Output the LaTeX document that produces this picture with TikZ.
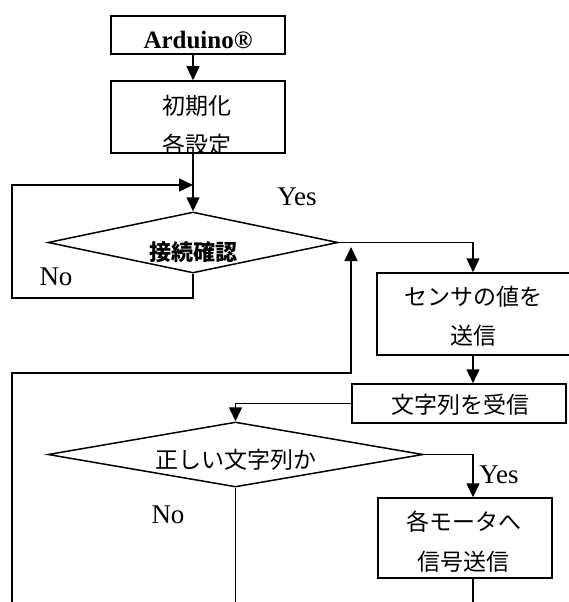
\documentclass[tikz,border=0pt]{standalone}
\usepackage{fontspec}
\setmainfont{Liberation Serif}
\newfontfamily\jp{Noto Sans CJK JP}
\usetikzlibrary{arrows.meta,shapes.geometric}
\begin{document}
\begin{tikzpicture}[x=1pt,y=-1pt,
  box/.style={draw,line width=1.5pt,inner sep=0pt},
  dia/.style={draw,diamond,line width=1.5pt,inner sep=0pt},
  jptext/.style={font=\jp\fontsize{23}{23}\selectfont,inner sep=0pt},
  lattext/.style={font=\fontsize{27}{27}\selectfont,inner sep=0pt},
  conn/.style={line width=1.5pt},
  thinconn/.style={line width=1.2pt},
  arr/.style={line width=1.5pt,-{Triangle[length=14pt,width=13pt]}}]
\useasboundingbox (0,0) rectangle (568,602);
% boxes
\node[box,minimum width=174pt,minimum height=38pt] (ard) at (198,35) {};
\node[box,minimum width=174pt,minimum height=72pt] (init) at (198,117) {};
\node[box,minimum width=193pt,minimum height=82pt] (sens) at (473.5,314) {};
\node[box,minimum width=214pt,minimum height=39pt] (recv) at (459,403.5) {};
\node[box,minimum width=174pt,minimum height=80pt] (motor) at (465,538) {};
\node[dia,minimum width=290pt,minimum height=61pt] (d1) at (193,242.5) {};
\node[dia,minimum width=375pt,minimum height=65pt] (d2) at (235.5,454.5) {};
% texts
\node[lattext,font=\bfseries\fontsize{25}{25}\selectfont] (tard) at (198,40) {Arduino®};
\node[jptext] (tinit1) at (197,106) {初期化};
\begin{scope}
\clip (111,81) rectangle (285,153);
\node[jptext] (tinit2) at (197,144.5) {各設定};
\end{scope}
\node[jptext,font=\jp\bfseries\fontsize{22}{22}\selectfont] (td1) at (193,252) {接続確認};
\node[jptext] (ts1) at (473,297) {センサの値を};
\node[jptext] (ts2) at (473,336) {送信};
\node[jptext] (tr) at (460,405) {文字列を受信};
\node[jptext] (td2) at (236,460) {正しい文字列か};
\node[jptext] (tm1) at (464,522) {各モータへ};
\node[jptext] (tm2) at (463,562) {信号送信};
\node[lattext] (yes1) at (297,197) {Yes};
\node[lattext] (no1) at (56,277) {No};
\node[lattext] (yes2) at (499,475) {Yes};
\node[lattext] (no2) at (168,515) {No};
% helper coordinates
\coordinate (lx) at (12,185);
\coordinate (colR) at (473,0);
\coordinate (bot) at (0,602);
\coordinate (backY) at (0,373);
\coordinate (upTip) at (351,247);
% connectors
\draw[arr] (ard.south -| d1.north) -- (init.north -| d1.north);
\draw[arr] (init.south -| d1.north) -- (d1.north);
\draw[arr] (d1.south) -- ++(0,24) -| (lx) -- (lx -| d1.north);
\draw[arr] (d1.east) -| (colR |- sens.north);
\draw[arr] (colR |- sens.south) -- (colR |- recv.north);
\draw[arr] (recv.west) -| (d2.north);
\draw[arr] (d2.east) -| (colR |- motor.north);
\draw[thinconn] (colR |- motor.south) -- (colR |- bot);
\draw[thinconn] (d2.south) -- (d2.south |- bot);
\draw[arr] (lx |- bot) -- (lx |- backY) -| (upTip);
\end{tikzpicture}
\end{document}
